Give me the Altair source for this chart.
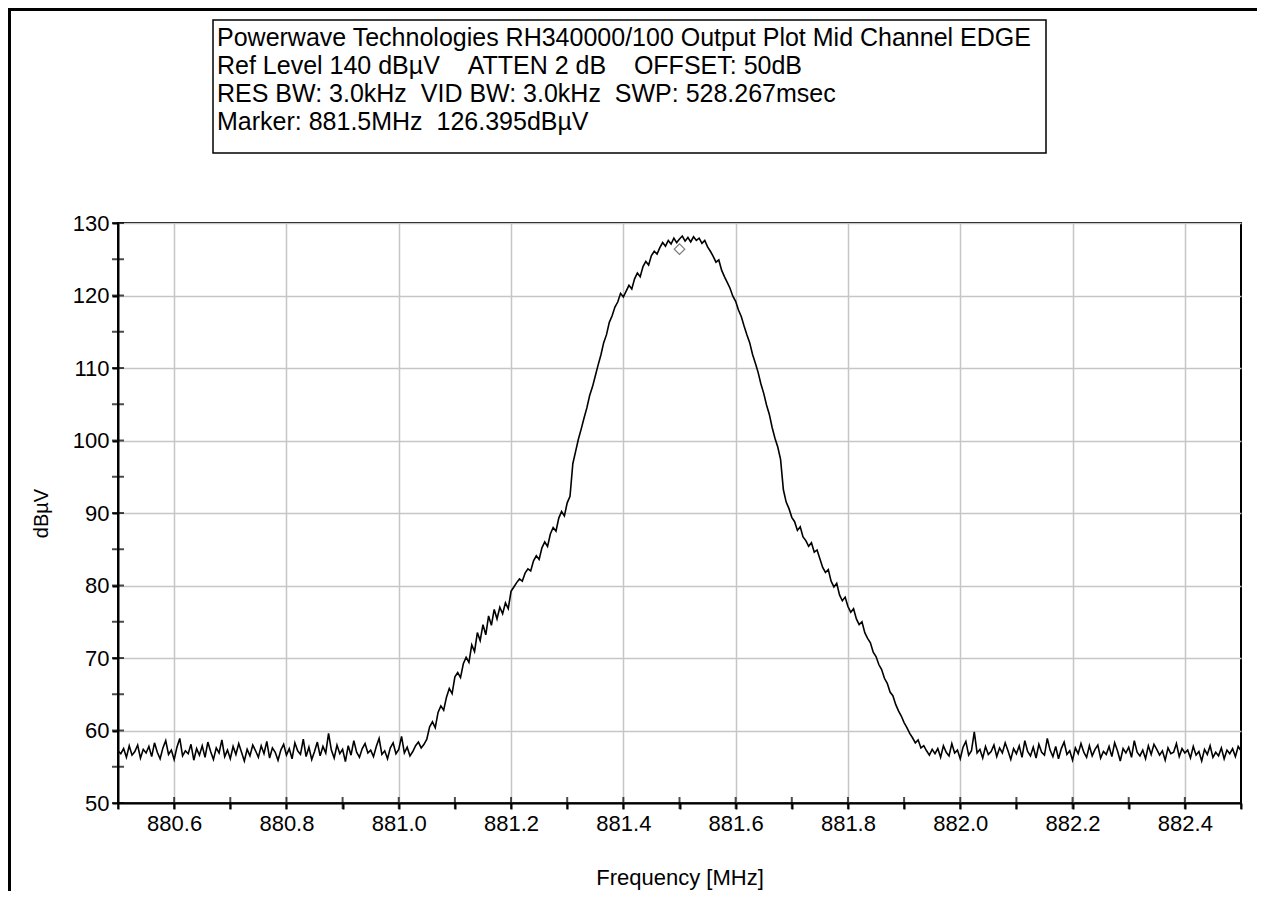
import altair as alt
import pandas as pd

# ---- sweep definition ----
FREQ_START = 880.5
FREQ_STEP = 0.005

# ---- trace levels (dBµV) ----
level_floor_left = [
    57.2, 56.8, 57.5, 56.3, 57.9, 56.6, 57.1, 58.0, 56.2, 57.4,
    56.9, 57.8, 56.4, 58.3, 57.0, 56.1, 57.6, 58.6, 56.7, 57.3,
    56.0, 57.7, 58.9, 56.5, 57.2, 56.8, 58.1, 55.9, 57.5, 56.6,
    57.9, 56.3, 58.4, 57.1, 56.0, 57.6, 56.9, 58.7, 56.4, 57.3,
    56.1, 57.8, 56.7, 58.2, 57.0, 55.8, 57.4, 56.5, 58.0, 57.2,
    56.3, 57.9, 56.8, 58.5, 56.2, 57.6, 57.0, 55.9, 57.3, 58.1,
    56.6, 57.5, 56.1, 58.3, 57.2, 56.7, 58.8, 56.4, 57.7, 56.0,
    57.1, 58.4, 56.5, 57.8, 56.9, 59.6, 57.3, 56.2, 58.0, 56.8,
    57.4, 55.7, 57.9, 56.6, 58.6, 57.0, 56.3, 57.5, 58.2, 56.9,
    57.3, 56.4, 57.8, 58.9, 56.7, 57.2, 56.1, 57.6, 58.3, 56.8,
    57.4, 59.2, 56.9, 57.7, 56.5, 57.1, 57.9, 58.4, 57.6, 58.1,
]
level_rise = [
    58.8, 60.5, 61.2, 60.4, 62.5, 63.4, 62.8, 64.6, 65.8, 65.1,
    67.4, 68.0, 67.3, 69.2, 70.1, 69.4, 71.8, 70.9, 73.5, 72.4,
    74.6, 73.2, 75.8, 74.5, 76.7, 75.4, 77.0, 76.1, 77.6, 76.8,
    79.2, 79.8, 80.4, 80.9, 80.6, 81.7, 82.3, 82.0, 83.4, 84.1,
    83.6, 85.2, 86.0, 85.4, 87.1, 88.0, 87.5, 89.3, 90.2, 89.6,
    91.4, 92.3, 96.8, 98.5, 100.2, 101.6, 103.1, 104.5, 106.2, 107.4,
    108.9, 110.4, 111.8, 113.5, 114.6, 116.3, 117.2, 118.4, 119.1, 120.3,
    119.8, 120.6, 121.4, 120.9, 122.3, 123.1, 122.6, 124.0, 124.7, 124.2,
    125.5, 126.1, 125.7, 126.6, 127.3, 126.8, 127.6, 127.1, 127.9, 127.3,
    127.8,
]
level_fall = [
    128.2, 127.5, 128.0, 127.4, 128.1, 127.6, 127.9, 127.2, 127.6, 126.7,
    126.1, 125.4, 124.6, 124.9, 123.5, 122.6, 121.8, 121.0, 119.9, 119.2,
    118.0, 117.1, 115.8, 114.6, 113.5, 111.9, 110.7, 109.4, 107.8, 106.5,
    104.9, 103.6, 101.8, 100.3, 99.1, 97.4, 93.2, 91.5, 90.6, 89.4,
    88.8, 87.6, 88.1, 86.7, 86.2, 85.4, 85.9, 84.6, 84.9, 83.7,
    82.5, 81.8, 82.2, 80.6, 79.8, 80.3, 78.7, 77.9, 78.4, 77.1,
    76.3, 76.8, 75.4, 74.6, 75.0, 73.5, 72.7, 72.1, 70.8, 70.2,
    69.1, 68.4, 67.2, 66.5, 65.3, 64.8, 63.6, 62.7, 62.0, 61.1,
    60.4, 59.6, 59.0, 58.3, 58.7, 57.6, 57.9, 57.2, 56.6, 57.4,
]
level_floor_right = [
    56.8, 57.5, 56.3, 57.9, 57.0, 56.5, 58.2, 56.9, 57.3, 56.1,
    57.7, 58.5, 56.6, 57.2, 59.8, 56.9, 57.4, 56.2, 57.8, 56.7,
    57.1, 58.0, 56.4, 57.6, 56.9, 58.3, 57.2, 56.0, 57.5, 56.8,
    57.9, 56.3, 58.6, 57.1, 56.5, 57.7, 56.2, 58.1, 57.0, 56.6,
    58.9, 57.3, 56.4, 57.8, 56.1, 57.5, 58.4, 56.7, 57.2, 55.9,
    57.6, 56.8, 58.2, 57.0, 56.3, 57.9, 56.5, 57.4, 58.0, 56.2,
    57.1, 56.7, 57.8, 56.4, 58.3, 57.2, 55.8, 57.5, 56.9, 57.7,
    56.3, 58.6, 57.0, 56.5, 57.3, 56.1, 57.9, 56.7, 58.1, 57.4,
    56.6, 57.2, 55.9, 57.6, 56.8, 57.0, 58.2, 56.4, 57.5, 56.9,
    57.3, 56.2, 57.8, 56.6, 57.1, 55.8, 57.4, 56.7, 57.9, 56.3,
    57.0, 56.5, 57.6, 56.1, 57.3, 56.8, 57.5, 56.4, 57.8, 57.2,
]

# ---- axis ticks ----
X_TICKS = [880.5, 880.6, 880.7, 880.8, 880.9, 881.0, 881.1, 881.2, 881.3, 881.4,
           881.5, 881.6, 881.7, 881.8, 881.9, 882.0, 882.1, 882.2, 882.3, 882.4, 882.5]
Y_TICKS = [50, 55, 60, 65, 70, 75, 80, 85, 90, 95, 100, 105, 110, 115, 120, 125, 130]

# ---- marker ----
MARKER_FREQ = [881.5]
MARKER_LEVEL = [126.395]

# ---- header box text ----
NB = "\u00a0"
HEADER_LINES = [
    "Powerwave Technologies RH340000/100 Output Plot Mid Channel EDGE",
    "Ref Level 140 dBµV" + NB * 4 + "ATTEN 2 dB" + NB * 4 + "OFFSET: 50dB",
    "RES BW: 3.0kHz" + NB * 2 + "VID BW: 3.0kHz" + NB * 2 + "SWP: 528.267msec",
    "Marker: 881.5MHz" + NB * 2 + "126.395dBµV",
]

FONT = "Liberation Sans"

levels = level_floor_left + level_rise + level_fall + level_floor_right
freqs = [round(FREQ_START + FREQ_STEP * i, 3) for i in range(len(levels))]
trace = pd.DataFrame({"freq": freqs, "level": levels})
marker_df = pd.DataFrame({"freq": MARKER_FREQ, "level": MARKER_LEVEL})
xticks_df = pd.DataFrame({"freq": X_TICKS})
yticks_df = pd.DataFrame({"level": Y_TICKS})
one = pd.DataFrame({"k": [0]})

x_scale = alt.Scale(domain=[880.5, 882.5], nice=False, zero=False)
y_scale = alt.Scale(domain=[50, 130], nice=False, zero=False)

x_axis = alt.Axis(
    values=X_TICKS,
    labelExpr="round(datum.value*10) % 2 == 0 ? format(datum.value, '.1f') : ''",
    grid=True,
    gridColor={"condition": {"test": "round(datum.value*10) % 2 == 0", "value": "#c6c6c6"},
               "value": "transparent"},
    gridWidth=1.5,
    domainColor="black", domainWidth=2,
    tickColor="black", tickWidth=2, tickSize=6,
    labelFont=FONT, labelFontSize=22, labelColor="black", labelPadding=4,
    labelFlush=False, labelOverlap=False,
    titleFont=FONT, titleFontSize=22, titleFontWeight="normal", titleColor="black",
    titleX=561.5, titleY=81, titleBaseline="alphabetic", titleAlign="center",
)
y_axis = alt.Axis(
    values=Y_TICKS,
    labelExpr="datum.value % 10 == 0 ? format(datum.value, 'd') : ''",
    grid=True,
    gridColor={"condition": {"test": "datum.value % 10 == 0", "value": "#c6c6c6"},
               "value": "transparent"},
    gridWidth=1.5,
    domainColor="black", domainWidth=2,
    tickColor="black", tickWidth=2, tickSize=6,
    labelFont=FONT, labelFontSize=22, labelColor="black", labelPadding=3,
    labelFlush=False, labelOverlap=False,
    titleFont=FONT, titleFontSize=20, titleFontWeight="normal", titleColor="black",
    titleX=-71, titleY=290, titleAngle=270, titleBaseline="alphabetic", titleAlign="center",
)

line = alt.Chart(trace).mark_line(color="black", strokeWidth=1.6, clip=True).encode(
    x=alt.X("freq:Q", scale=x_scale, axis=x_axis, title="Frequency [MHz]"),
    y=alt.Y("level:Q", scale=y_scale, axis=y_axis, title="dBµV"),
)

marker = alt.Chart(marker_df).mark_point(
    shape="diamond", filled=False, size=110, color="#444444", strokeWidth=1.2
).encode(x=alt.X("freq:Q"), y=alt.Y("level:Q"))

# inner halves of the axis ticks (ticks cross the axis line)
xticks_in = alt.Chart(xticks_df).mark_tick(color="black", thickness=2, size=12).encode(
    x=alt.X("freq:Q"), y=alt.value(580)
)
yticks_in = alt.Chart(yticks_df).mark_tick(color="black", thickness=2, size=12).encode(
    y=alt.Y("level:Q"), x=alt.value(0)
)

frame_top = alt.Chart(one).mark_rule(color="black", strokeWidth=3).encode(
    x=alt.value(-110), x2=alt.value(1139), y=alt.value(-213.5)
)
frame_left = alt.Chart(one).mark_rule(color="black", strokeWidth=3).encode(
    x=alt.value(-108.5), y=alt.value(-215), y2=alt.value(668)
)

box = alt.Chart(one).mark_rect(fill="white", stroke="black", strokeWidth=1.5).encode(
    x=alt.value(95), x2=alt.value(928), y=alt.value(-203), y2=alt.value(-70)
)

baselines = [-177.5, -149.5, -121.5, -93.5]
texts = [
    alt.Chart(one).mark_text(
        align="left", baseline="alphabetic", font=FONT, fontSize=25, color="black"
    ).encode(x=alt.value(99), y=alt.value(b), text=alt.value(t))
    for t, b in zip(HEADER_LINES, baselines)
]

chart = alt.layer(
    frame_top, frame_left, box, *texts, line, xticks_in, yticks_in, marker
).properties(
    width=1123,
    height=580,
    autosize=alt.AutoSizeParams(type="none"),
    padding={"left": 110, "top": 215, "right": 16, "bottom": 88},
    background="white",
).configure_view(stroke="black", strokeWidth=2)

chart.save("out.html", embed_options={"renderer": "svg", "actions": False})
